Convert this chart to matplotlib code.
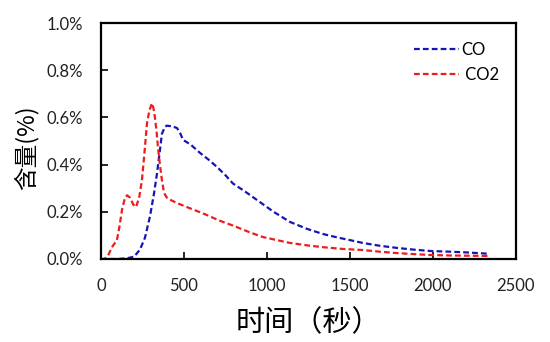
import matplotlib
matplotlib.use("Agg")
import matplotlib.pyplot as plt
from matplotlib.ticker import PercentFormatter

# time (s) and content (%)
co_t = [0, 100, 156, 200, 235, 265, 295, 320, 337, 355, 367, 385, 397, 430, 458, 476, 494,
        540, 596, 650, 699, 750, 795, 870, 940, 1040, 1139, 1240, 1337, 1420, 1500, 1578,
        1680, 1783, 1880, 1982, 2100, 2200, 2343]
co_v = [0.0, 0.0, 0.003, 0.01, 0.04, 0.09, 0.18, 0.28, 0.36, 0.46, 0.53, 0.56, 0.565, 0.562,
        0.555, 0.535, 0.505, 0.485, 0.45, 0.42, 0.39, 0.355, 0.32, 0.285, 0.25, 0.2, 0.157,
        0.128, 0.106, 0.092, 0.08, 0.068, 0.056, 0.047, 0.04, 0.034, 0.031, 0.028, 0.022]

co2_t = [0, 20, 40, 66, 96, 112, 127, 143, 157, 175, 195, 211, 230, 247, 262, 277, 292,
         307, 316, 325, 335, 343, 355, 367, 380, 397, 420, 458, 500, 536, 590, 639, 690,
         735, 790, 837, 900, 976, 1060, 1139, 1240, 1337, 1450, 1578, 1680, 1783, 1880,
         1982, 2100, 2200, 2343]
co2_v = [0.0, 0.0, 0.01, 0.05, 0.08, 0.14, 0.21, 0.255, 0.27, 0.26, 0.23, 0.22, 0.26, 0.335,
         0.45, 0.575, 0.63, 0.66, 0.64, 0.6, 0.54, 0.475, 0.4, 0.335, 0.28, 0.26, 0.25, 0.237,
         0.225, 0.215, 0.2, 0.186, 0.17, 0.157, 0.143, 0.13, 0.112, 0.093, 0.08, 0.068, 0.058,
         0.05, 0.043, 0.038, 0.031, 0.025, 0.021, 0.017, 0.015, 0.014, 0.013]

x_ticks = [0, 500, 1000, 1500, 2000, 2500]
y_ticks = [0.0, 0.2, 0.4, 0.6, 0.8, 1.0]

tick_font = "Lato"
cjk = ["Noto Sans CJK SC", "DejaVu Sans"]

fig = plt.figure(figsize=(5.5, 3.42), dpi=100)
ax = fig.add_axes([0.1836, 0.2427, 0.938 - 0.1836, 0.9327 - 0.2427])

dash = (0, (2.6, 1.4))
ax.plot(co_t, co_v, color="#1515b5", lw=1.6, linestyle=dash, label="CO")
ax.plot(co2_t, co2_v, color="#ee1c1c", lw=1.6, linestyle=dash, label=" CO2")

ax.set_xlim(0, 2500)
ax.set_ylim(0, 1.0)
ax.set_xticks(x_ticks)
ax.set_yticks(y_ticks)
ax.yaxis.set_major_formatter(PercentFormatter(xmax=100, decimals=1))
ax.tick_params(direction="in", length=5, width=1.2, labelsize=12)
ax.tick_params(axis="x", pad=14)
ax.tick_params(axis="y", pad=13)
for lab in ax.get_xticklabels() + ax.get_yticklabels():
    lab.set_fontfamily(tick_font)
    lab.set_color("#222222")
for sp in ax.spines.values():
    sp.set_linewidth(1.6)

ax.set_xlabel("时间（秒）", family=cjk, fontsize=21, labelpad=10)
ax.set_ylabel("含量(%)", family=cjk, fontsize=17)
ax.yaxis.set_label_coords(-0.15, 0.47)

leg = ax.legend(loc="upper right", bbox_to_anchor=(0.996, 0.985), frameon=False,
                handlelength=2.7, handletextpad=0.1, labelspacing=0.55,
                prop={"family": tick_font, "size": 12})

fig.savefig("out.png", dpi=100)
